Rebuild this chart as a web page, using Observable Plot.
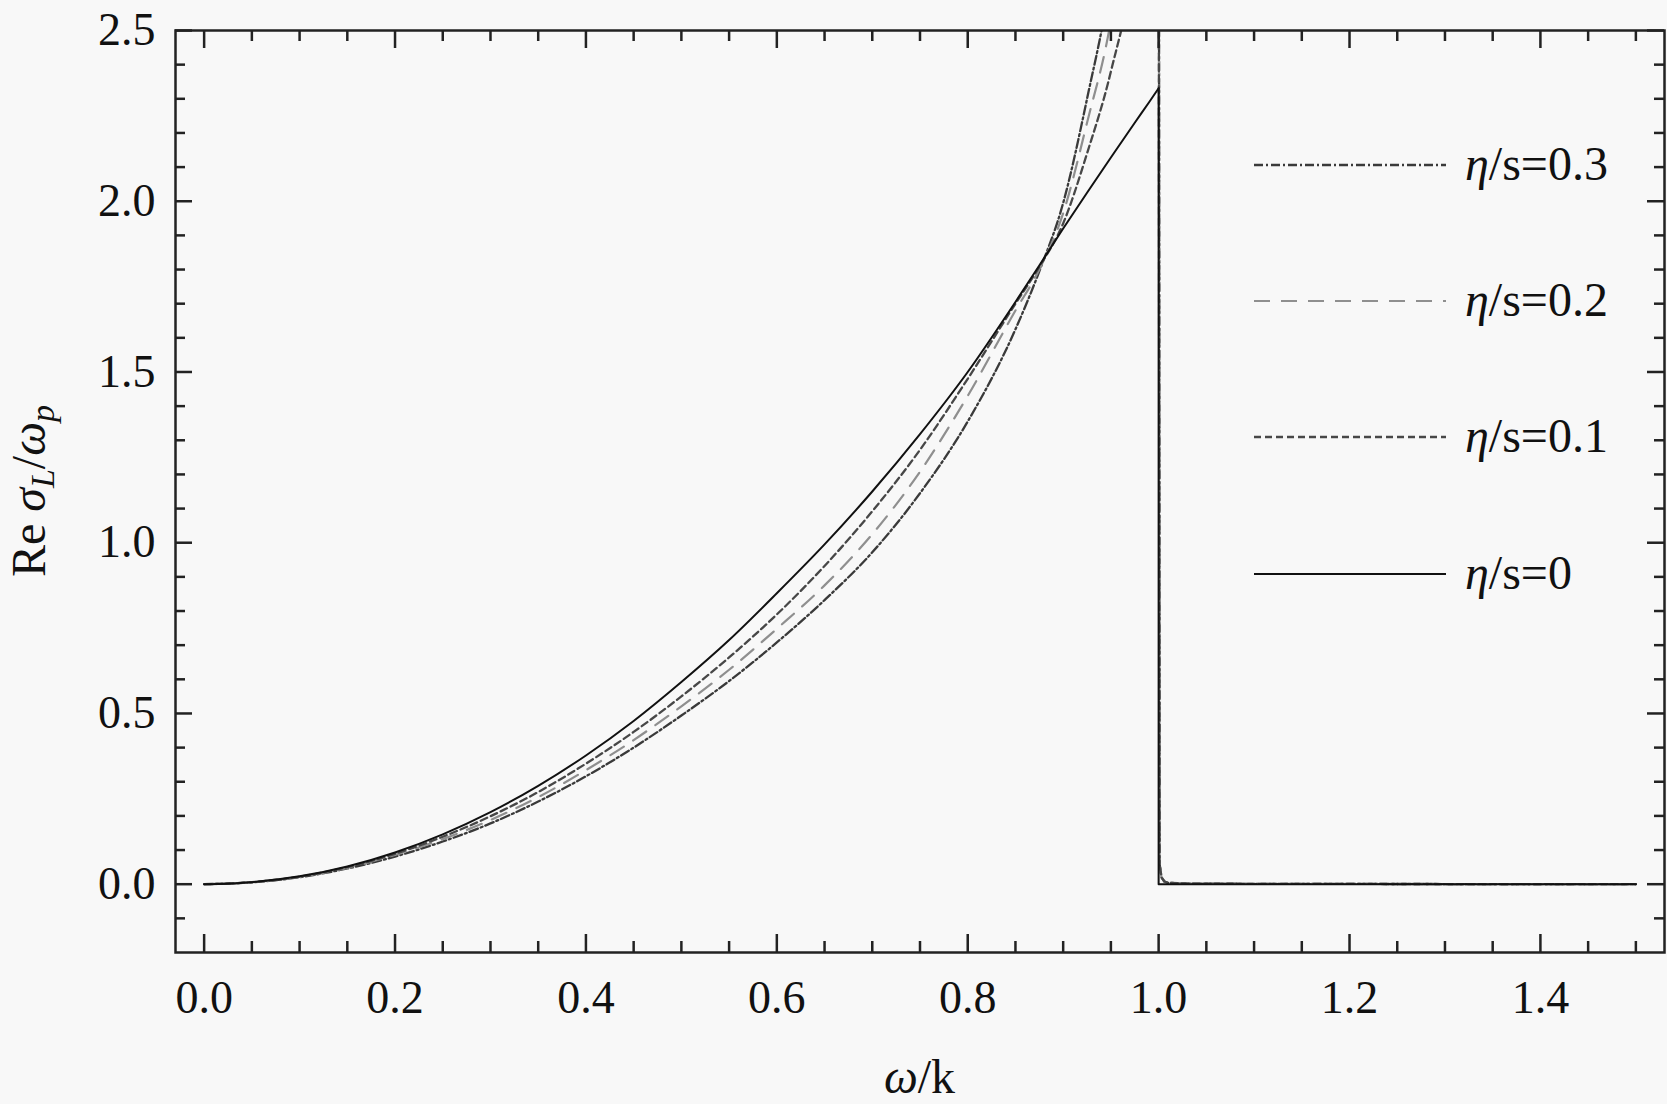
<!DOCTYPE html>
<html><head><meta charset="utf-8">
<script src="https://cdn.jsdelivr.net/npm/d3@7"></script>
<script src="https://cdn.jsdelivr.net/npm/@observablehq/plot@0.6"></script>
<style>
html,body{margin:0;padding:0;background:#f8f8f8;}
#chart{width:1667px;height:1104px;}
#chart svg text{font-family:'Liberation Serif','Times New Roman',serif;}
</style></head><body><div id="chart"></div>
<script>
// ---- data ----
const xCurve = [0,0.05,0.1,0.15,0.2,0.25,0.3,0.35,0.4,0.45,0.5,0.55,0.6,0.65,0.7,0.75,0.8,0.85,0.875,0.9,0.925,0.95,0.975,0.99,1.0];
const sigmaEta0   = [0,0.006,0.023,0.052,0.093,0.146,0.211,0.288,0.377,0.478,0.592,0.715,0.852,0.995,1.150,1.318,1.500,1.705,1.812,1.920,2.025,2.128,2.230,2.290,2.331];
const sigmaEta01  = [0,0.006,0.022,0.050,0.089,0.139,0.199,0.270,0.353,0.446,0.550,0.664,0.790,0.932,1.092,1.272,1.480,1.700,1.808,1.935,2.140,2.380,2.720,3.100,3.400];
const sigmaEta02  = [0,0.0057,0.0215,0.048,0.086,0.132,0.188,0.255,0.334,0.422,0.521,0.628,0.748,0.875,1.025,1.208,1.430,1.680,1.800,1.965,2.230,2.530,3.050,3.600,4.000];
const sigmaEta03  = [0,0.0055,0.0205,0.046,0.081,0.125,0.178,0.242,0.316,0.400,0.494,0.595,0.708,0.832,0.972,1.145,1.355,1.625,1.795,1.995,2.300,2.660,3.250,3.900,4.500];
const xTailViscous = [1.001,1.003,1.006,1.01,1.03,1.1,1.5];
const yTailViscous = [0.06,0.02,0.008,0.004,0.002,0.001,0];
const xTailIdeal = [1.0,1.5];
const yTailIdeal = [0,0];
const xMajorTicks = [0,0.2,0.4,0.6,0.8,1.0,1.2,1.4];
const xMinorTicks = [0.05,0.1,0.15,0.25,0.3,0.35,0.45,0.5,0.55,0.65,0.7,0.75,0.85,0.9,0.95,1.05,1.1,1.15,1.25,1.3,1.35,1.45,1.5];
const yMajorTicks = [0,0.5,1.0,1.5,2.0,2.5];
const yMinorTicks = [-0.1,0.1,0.2,0.3,0.4,0.6,0.7,0.8,0.9,1.1,1.2,1.3,1.4,1.6,1.7,1.8,1.9,2.1,2.2,2.3,2.4];
const legendValues = ["0.3","0.2","0.1","0"];

// ---- build tables ----
function curveRows(ys){ return xCurve.map((x,i)=>({x, y: ys[i]})); }
function tailRows(ys, tx, ty){
  const last = {x: xCurve[xCurve.length-1], y: ys[ys.length-1]};
  return [last].concat(tx.map((x,i)=>({x, y: ty[i]})));
}
const series = [
  {key:"0.3", ys: sigmaEta03, tx: xTailViscous, ty: yTailViscous},
  {key:"0.2", ys: sigmaEta02, tx: xTailViscous, ty: yTailViscous},
  {key:"0.1", ys: sigmaEta01, tx: xTailViscous, ty: yTailViscous},
  {key:"0",   ys: sigmaEta0,  tx: xTailIdeal,   ty: yTailIdeal}
];

const W = 1667, H = 1104, ML = 175, MR = 3, MT = 30, MB = 152;
const IW = W - ML - MR, IH = H - MT - MB;
const styles = {
  "0.3": {stroke:"#3a3a3a", dash:"9,3,2,3", width:2.3},
  "0.2": {stroke:"#8f8f8f", dash:"16,11", width:2.2},
  "0.1": {stroke:"#474747", dash:"7,4", width:2.3},
  "0":   {stroke:"#111111", dash:null, width:2.0}
};
const tickColor = "#222";
const font = "'Liberation Serif','Times New Roman',serif";

const lineMarks = [];
for (const s of series) {
  const st = styles[s.key];
  const opts = {x:"x", y:"y", stroke: st.stroke, strokeWidth: st.width, clip: true};
  if (st.dash) opts.strokeDasharray = st.dash;
  lineMarks.push(Plot.line(curveRows(s.ys), {...opts, curve: "monotone-x"}));
  lineMarks.push(Plot.line(tailRows(s.ys, s.tx, s.ty), opts));
}

const chart = Plot.plot({
  width: W, height: H,
  marginLeft: ML, marginRight: MR, marginTop: MT, marginBottom: MB,
  x: {domain: [-0.03, 1.53], label: null},
  y: {domain: [-0.2, 2.5], label: null},
  style: {background: "#f8f8f8", fontFamily: font, fontSize: "46px", color: "#111"},
  marks: [
    ...lineMarks,
    // inward ticks: bottom / top
    Plot.ruleX(xMajorTicks, {insetTop: IH - 18, stroke: tickColor, strokeWidth: 2.5}),
    Plot.ruleX(xMinorTicks, {insetTop: IH - 11, stroke: tickColor, strokeWidth: 2.5}),
    Plot.ruleX(xMajorTicks, {insetBottom: IH - 18, stroke: tickColor, strokeWidth: 2.5}),
    Plot.ruleX(xMinorTicks, {insetBottom: IH - 11, stroke: tickColor, strokeWidth: 2.5}),
    // inward ticks: left / right
    Plot.ruleY(yMajorTicks, {insetRight: IW - 17, stroke: tickColor, strokeWidth: 2.5}),
    Plot.ruleY(yMinorTicks, {insetRight: IW - 10, stroke: tickColor, strokeWidth: 2.5}),
    Plot.ruleY(yMajorTicks, {insetLeft: IW - 17, stroke: tickColor, strokeWidth: 2.5}),
    Plot.ruleY(yMinorTicks, {insetLeft: IW - 10, stroke: tickColor, strokeWidth: 2.5}),
    Plot.axisX({ticks: xMajorTicks, tickSize: 0, tickPadding: 28, tickFormat: d3.format(".1f"), label: null, fill: "#111", fontFamily: font, fontSize: 46}),
    Plot.axisY({ticks: yMajorTicks, tickSize: 0, tickPadding: 20, tickFormat: d3.format(".1f"), label: null, fill: "#111", fontFamily: font, fontSize: 46}),
    Plot.frame({stroke: tickColor, strokeWidth: 2.5})
  ]
});

const svg = d3.select(chart);

// x-axis title
const xt = svg.append("text")
  .attr("x", ML + IW/2).attr("y", 1093)
  .attr("text-anchor", "middle").attr("font-family", font).attr("font-size", 48).attr("fill", "#111");
xt.append("tspan").attr("font-style", "italic").text("ω");
xt.append("tspan").text("/k");

// y-axis title
const yt = svg.append("text")
  .attr("transform", `translate(45,${MT + IH/2}) rotate(-90)`)
  .attr("text-anchor", "middle").attr("font-family", font).attr("font-size", 48).attr("fill", "#111");
yt.append("tspan").text("Re ");
yt.append("tspan").attr("font-style", "italic").text("σ");
yt.append("tspan").attr("font-style", "italic").attr("font-size", 34).attr("dy", 9).text("L");
yt.append("tspan").attr("dy", -9).text("/");
yt.append("tspan").attr("font-style", "italic").text("ω");
yt.append("tspan").attr("font-style", "italic").attr("font-size", 34).attr("dy", 9).text("p");

// legend
const legendY = [165, 301, 437, 574];
const lg = svg.append("g");
legendValues.forEach((v, i) => {
  const st = styles[v];
  const ln = lg.append("line")
    .attr("x1", 1254).attr("x2", 1446).attr("y1", legendY[i]).attr("y2", legendY[i])
    .attr("stroke", st.stroke).attr("stroke-width", st.width);
  if (st.dash) ln.attr("stroke-dasharray", st.dash);
  const t = lg.append("text")
    .attr("x", 1465).attr("y", legendY[i] + 15)
    .attr("text-anchor", "start")
    .attr("font-family", font).attr("font-size", 48).attr("fill", "#111");
  t.append("tspan").attr("font-style", "italic").text("η");
  t.append("tspan").text("/s=" + v);
});

document.getElementById("chart").appendChild(chart);
</script>
</body></html>
